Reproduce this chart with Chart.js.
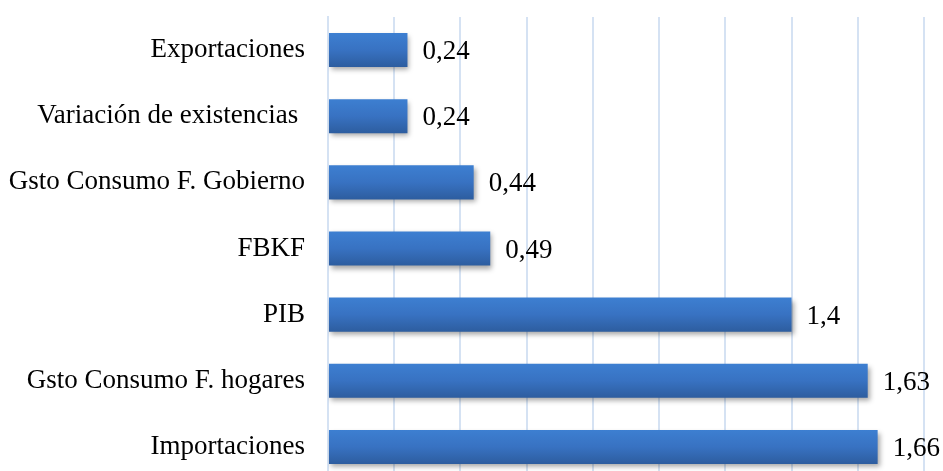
<!DOCTYPE html>
<html>
<head>
<meta charset="utf-8">
<script src="https://cdn.jsdelivr.net/npm/chart.js@4.4.1/dist/chart.umd.min.js"></script>
<style>
  html, body { margin: 0; padding: 0; background: #fff; overflow: hidden; }
  #wrap { width: 943px; height: 480px; }
</style>
</head>
<body>
<div id="wrap"><canvas id="barChart" width="943" height="480"></canvas></div>
<script>
const categories = ['Exportaciones', 'Variación de existencias ', 'Gsto Consumo F. Gobierno', 'FBKF', 'PIB', 'Gsto Consumo F. hogares', 'Importaciones'];
const values = [0.24, 0.24, 0.44, 0.49, 1.4, 1.63, 1.66];
const axisMin = 0;
const axisMax = 1.8;
const axisStep = 0.2;

const serif = '"Liberation Serif", "Times New Roman", serif';
const gridColor = '#d5e2f3';

// shadow under the bars
const barShadow = {
    id: 'barShadow',
    beforeDatasetsDraw(chart) {
        const c = chart.ctx;
        c.save();
        c.shadowColor = 'rgba(0,0,0,0.35)';
        c.shadowBlur = 5;
        c.shadowOffsetX = 2;
        c.shadowOffsetY = 3;
    },
    afterDatasetsDraw(chart) {
        chart.ctx.restore();
    }
};

// value labels to the right of each bar
const valueLabels = {
    id: 'valueLabels',
    afterDatasetsDraw(chart) {
        const c = chart.ctx;
        const meta = chart.getDatasetMeta(0);
        c.save();
        c.font = '27px ' + serif;
        c.fillStyle = '#000';
        c.textAlign = 'left';
        c.textBaseline = 'middle';
        meta.data.forEach((bar, i) => {
            c.fillText(String(values[i]).replace('.', ','), bar.x + 15, bar.y + 2);
        });
        c.restore();
    }
};

function barFill(context) {
    const chart = context.chart;
    const yScale = chart.scales.y;
    if (!chart.chartArea || !yScale || context.dataIndex === undefined) return '#3670bd';
    const mid = yScale.getPixelForValue(context.dataIndex);
    if (!isFinite(mid)) return '#3670bd';
    const h = 34;
    const g = chart.ctx.createLinearGradient(0, mid - h / 2, 0, mid + h / 2);
    g.addColorStop(0, '#3d7fd1');
    g.addColorStop(0.5, '#3872c2');
    g.addColorStop(1, '#2d5d9f');
    return g;
}

const ctx = document.getElementById('barChart').getContext('2d');
const chart = new Chart(ctx, {
    type: 'bar',
    data: {
        labels: categories,
        datasets: [{
            data: values,
            backgroundColor: barFill,
            borderWidth: 0,
            barPercentage: 0.515,
            categoryPercentage: 1
        }]
    },
    plugins: [barShadow, valueLabels],
    options: {
        indexAxis: 'y',
        responsive: false,
        animation: false,
        layout: { padding: { top: 17, right: 19, bottom: 0, left: 0 } },
        plugins: {
            legend: { display: false },
            tooltip: { enabled: false }
        },
        scales: {
            x: {
                min: axisMin,
                max: axisMax,
                ticks: { stepSize: axisStep, display: false },
                grid: { color: gridColor, lineWidth: 2, drawTicks: false },
                border: { display: false },
                afterFit(scale) { scale.height = 0; }
            },
            y: {
                grid: { display: false, drawTicks: false },
                border: { color: gridColor, width: 2 },
                ticks: {
                    color: '#000',
                    padding: 23,
                    autoSkip: false,
                    font: { family: serif, size: 27 }
                },
                afterFit(scale) {
                    scale.width = 328;
                    scale.paddingTop = 0;
                    scale.paddingBottom = 0;
                }
            }
        }
    }
});
</script>
</body>
</html>
